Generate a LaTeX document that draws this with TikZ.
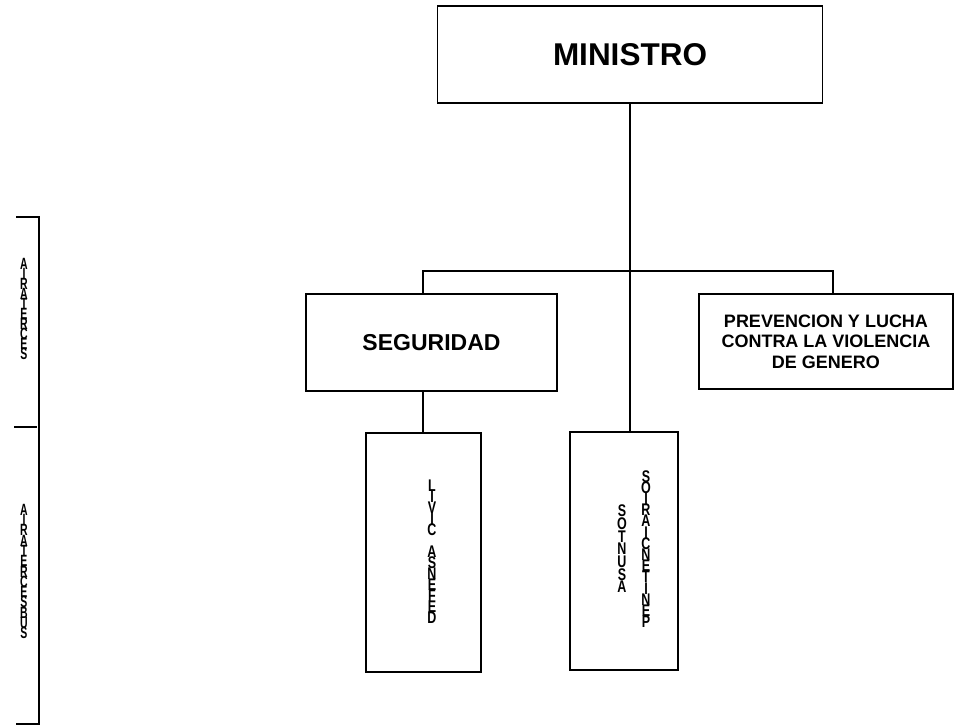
\documentclass[tikz,border=0pt]{standalone}
\usepackage{fontspec}
\setmainfont{Liberation Sans}
\newcommand\tightlines{\lineskiplimit=-100pt\relax}
\begin{document}
\begin{tikzpicture}[x=1pt,y=-1pt,
	unit/.style={draw,line width=1.8pt,inner sep=0pt,align=center},
	lowunit/.style={draw,line width=1.5pt,inner sep=0pt},
	letters/.style={align=center,inner sep=0pt,yscale=1.35,transform shape,font=\bfseries\fontsize{12.5}{#1}\selectfont\tightlines},
	sideletters/.style={align=center,inner sep=0pt,yscale=1.55,transform shape,font=\bfseries\fontsize{10.5}{#1}\selectfont\tightlines},
	link/.style={line width=1.8pt}]
	\useasboundingbox (0,0) rectangle (954,726);
	\node[unit,minimum width=385pt,minimum height=97pt,font=\bfseries\fontsize{31.5}{36}\selectfont] (ministro) at (630,54.5) {MINISTRO};
	\node[unit,minimum width=251pt,minimum height=97pt,font=\bfseries\fontsize{23}{27}\selectfont] (seguridad) at (431.5,342.5) {SEGURIDAD};
	\node[unit,minimum width=254pt,minimum height=95pt,font=\bfseries\fontsize{18}{20.5}\selectfont] (prevencion) at (826,341.5) {PREVENCION Y LUCHA\\CONTRA LA VIOLENCIA\\DE GENERO};
	\node[lowunit,minimum width=115pt,minimum height=239pt] (defensa) at (423.5,552.5) {};
	\node[lowunit,minimum width=108pt,minimum height=238pt] (asuntos) at (624,551) {};
	\node[letters=8.15pt] (defensatxt) at (432,551.5) {L\\I\\V\\I\\C\\\mbox{}\\A\\S\\N\\E\\F\\E\\D};
	\node[letters=9.4pt] (asuntostxt) at (622,549) {S\\O\\T\\N\\U\\S\\A};
	\node[letters=8.3pt] (penitenciariostxt) at (646,549) {S\\O\\I\\R\\A\\I\\C\\N\\E\\T\\I\\N\\E\\P};
	\node[sideletters=6.5pt] (secretaria) at (24,309) {A\\I\\R\\A\\T\\E\\R\\C\\E\\S};
	\node[sideletters=6.65pt] (subsecretaria) at (24,571.5) {A\\I\\R\\A\\T\\E\\R\\C\\E\\S\\B\\U\\S};
	\coordinate (jseg) at (423,271);
	\coordinate (jprev) at (833,271);
	\coordinate (b1) at (16,217);
	\coordinate (b2) at (39,217);
	\coordinate (b3) at (39,724);
	\coordinate (b4) at (16,724);
	\coordinate (m1) at (14,427);
	\coordinate (m2) at (37,427);
	\draw[link]
	(ministro.south) to (ministro.south |- asuntos.north)
	(jseg |- seguridad.north) to (jseg) to (jprev) to (jprev |- prevencion.north)
	(jseg |- seguridad.south) to (jseg |- defensa.north);
	\draw[line width=1.8pt]
	(b1) to (b2) to (b3) to (b4)
	(m1) to (m2);
\end{tikzpicture}
\end{document}
